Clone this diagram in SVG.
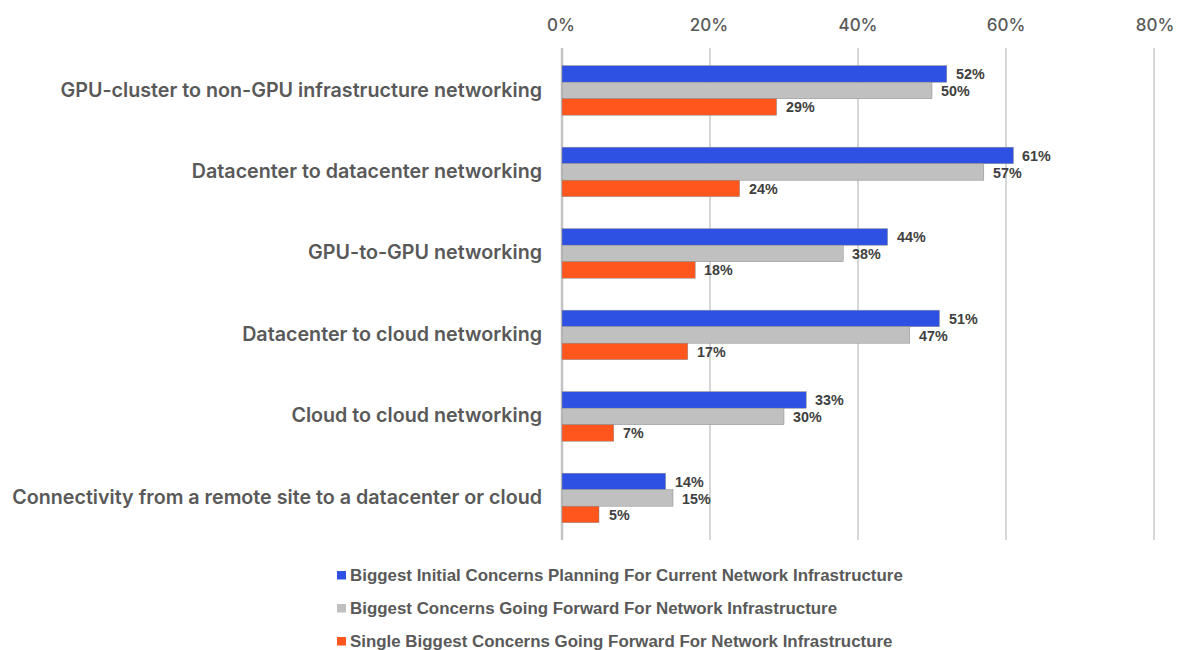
<svg xmlns="http://www.w3.org/2000/svg" width="1182" height="650" viewBox="0 0 1182 650">
  <style>
    .grid { stroke: #d6d6d6; stroke-width: 2; }
    .axis0 { stroke: #c4c4c4; stroke-width: 2.5; }
    .tick { font-family: Inter, "Liberation Sans", sans-serif; font-size: 17px; font-weight: 500; fill: #595959; text-anchor: middle; }
    .cat { font-family: Inter, "Liberation Sans", sans-serif; font-size: 19.7px; font-weight: 600; fill: #595959; text-anchor: end; }
    .val { font-family: "Liberation Sans", Arial, sans-serif; font-size: 14.3px; font-weight: bold; fill: #404040; }
    .leg { font-family: "Liberation Sans", Arial, sans-serif; font-size: 16.9px; font-weight: bold; fill: #595959; }
    .s1 { fill: #2e51e3; stroke: #8a8a8a; stroke-width: 0.5; }
    .s2 { fill: #c0c0c0; stroke: #8a8a8a; stroke-width: 0.5; }
    .s3 { fill: #ff561e; stroke: #8a8a8a; stroke-width: 0.5; }
  </style>
  <rect width="1182" height="650" fill="#ffffff"/>

  <!-- value axis -->
  <g id="axis">
    <line class="grid" x1="710" y1="48" x2="710" y2="540"/>
    <line class="grid" x1="858" y1="48" x2="858" y2="540"/>
    <line class="grid" x1="1006" y1="48" x2="1006" y2="540"/>
    <line class="grid" x1="1154" y1="48" x2="1154" y2="540"/>
    <line class="axis0" x1="562" y1="48" x2="562" y2="540"/>
    <text class="tick" x="561" y="31">0%</text>
    <text class="tick" x="709" y="31">20%</text>
    <text class="tick" x="858" y="31">40%</text>
    <text class="tick" x="1006" y="31">60%</text>
    <text class="tick" x="1155" y="31">80%</text>
  </g>

  <!-- one group per category; bar length = 7.4 px per percent -->
  <g id="cat-gpu-cluster">
    <text class="cat" x="542" y="97">GPU-cluster to non-GPU infrastructure networking</text>
    <rect class="s1" x="562" y="65.7" width="384.8" height="16.5"/>
    <rect class="s2" x="562" y="82.2" width="370" height="16.5"/>
    <rect class="s3" x="562" y="98.7" width="214.6" height="16.5"/>
    <text class="val" x="956" y="79">52%</text>
    <text class="val" x="941" y="96">50%</text>
    <text class="val" x="786" y="112">29%</text>
  </g>

  <g id="cat-dc-dc">
    <text class="cat" x="542" y="178">Datacenter to datacenter networking</text>
    <rect class="s1" x="562" y="147.2" width="451.4" height="16.5"/>
    <rect class="s2" x="562" y="163.7" width="421.8" height="16.5"/>
    <rect class="s3" x="562" y="180.2" width="177.6" height="16.5"/>
    <text class="val" x="1022" y="160.5">61%</text>
    <text class="val" x="993" y="177.5">57%</text>
    <text class="val" x="749" y="193.5">24%</text>
  </g>

  <g id="cat-gpu-gpu">
    <text class="cat" x="542" y="259">GPU-to-GPU networking</text>
    <rect class="s1" x="562" y="228.7" width="325.6" height="16.5"/>
    <rect class="s2" x="562" y="245.2" width="281.2" height="16.5"/>
    <rect class="s3" x="562" y="261.7" width="133.2" height="16.5"/>
    <text class="val" x="897" y="242">44%</text>
    <text class="val" x="852" y="259">38%</text>
    <text class="val" x="704" y="275">18%</text>
  </g>

  <g id="cat-dc-cloud">
    <text class="cat" x="542" y="340.5">Datacenter to cloud networking</text>
    <rect class="s1" x="562" y="310.2" width="377.4" height="16.5"/>
    <rect class="s2" x="562" y="326.7" width="347.8" height="16.5"/>
    <rect class="s3" x="562" y="343.2" width="125.8" height="16.5"/>
    <text class="val" x="949" y="323.5">51%</text>
    <text class="val" x="919" y="340.5">47%</text>
    <text class="val" x="697" y="356.5">17%</text>
  </g>

  <g id="cat-cloud-cloud">
    <text class="cat" x="542" y="422">Cloud to cloud networking</text>
    <rect class="s1" x="562" y="391.7" width="244.2" height="16.5"/>
    <rect class="s2" x="562" y="408.2" width="222" height="16.5"/>
    <rect class="s3" x="562" y="424.7" width="51.8" height="16.5"/>
    <text class="val" x="815" y="405">33%</text>
    <text class="val" x="793" y="422">30%</text>
    <text class="val" x="623" y="438">7%</text>
  </g>

  <g id="cat-remote">
    <text class="cat" x="542" y="503.5">Connectivity from a remote site to a datacenter or cloud</text>
    <rect class="s1" x="562" y="473.2" width="103.6" height="16.5"/>
    <rect class="s2" x="562" y="489.7" width="111" height="16.5"/>
    <rect class="s3" x="562" y="506.2" width="37" height="16.5"/>
    <text class="val" x="675" y="486.5">14%</text>
    <text class="val" x="682" y="503.5">15%</text>
    <text class="val" x="609" y="519.5">5%</text>
  </g>

  <!-- legend -->
  <g id="legend">
    <rect x="337" y="571" width="9" height="8.5" fill="#2e51e3"/>
    <text class="leg" x="350" y="581">Biggest Initial Concerns Planning For Current Network Infrastructure</text>
    <rect x="337" y="604" width="9" height="8.5" fill="#c0c0c0"/>
    <text class="leg" x="350" y="614">Biggest Concerns Going Forward For Network Infrastructure</text>
    <rect x="337" y="637" width="9" height="8.5" fill="#ff561e"/>
    <text class="leg" x="350" y="647">Single Biggest Concerns Going Forward For Network Infrastructure</text>
  </g>
</svg>
